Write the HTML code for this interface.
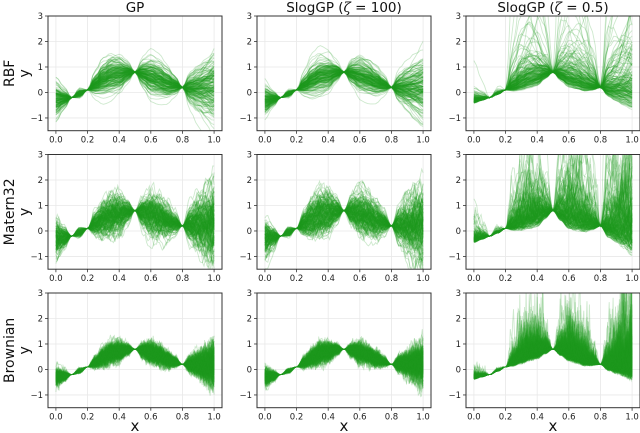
<!DOCTYPE html>
<html><head><meta charset="utf-8"><style>
body{margin:0;background:#fff}
svg{display:block;font-family:"DejaVu Sans","Liberation Sans",sans-serif}
</style></head><body>
<svg id="fig" width="640" height="433" viewBox="0 0 640 433" xmlns="http://www.w3.org/2000/svg"></svg>
<script>
// ---- data ----
const colTitles = ["GP", "SlogGP", "SlogGP"];
const colZeta = ["", "100", "0.5"];
const rowKernels = ["RBF", "Matern32", "Brownian"];
const xTicks = [0.0, 0.2, 0.4, 0.6, 0.8, 1.0];
const yTicks = [-1, 0, 1, 2, 3];
// mean of samples at x = 0, 0.05, ..., 1.0
const meanKnots = [-0.3,-0.25,-0.2,-0.05,0.1,0.3,0.5,0.65,0.7,0.78,0.8,0.75,0.65,0.55,0.4,0.3,0.2,0.2,0.2,0.2,0.2];
// spread (std) of samples at same knots
const sdKnots = [0.35,0.18,0.0,0.08,0.0,0.2,0.33,0.38,0.35,0.2,0.0,0.25,0.38,0.36,0.3,0.18,0.0,0.3,0.45,0.6,0.75];
const rowSpread = [1.0, 1.3, 0.75];
const nSamples = 200;

const svg = document.getElementById('fig');
const NS = "http://www.w3.org/2000/svg";
const colLeft = [48, 257, 466], axW = 174;
const rowTop = [16, 154.5, 293], axH = 114.7;
const xmin = -0.05, xmax = 1.05, ymin = -1.5, ymax = 3;

function el(tag, attrs, parent) {
  const e = document.createElementNS(NS, tag);
  for (const k in attrs) e.setAttribute(k, attrs[k]);
  (parent || svg).appendChild(e);
  return e;
}
function interp(arr, x) {
  const t = Math.max(0, Math.min(1, x)) * (arr.length - 1);
  const i = Math.min(arr.length - 2, Math.floor(t)), f = t - i;
  const s = f * f * (3 - 2 * f);
  return arr[i] * (1 - s) + arr[i + 1] * s;
}
let seed = 12345;
function rnd() { seed = (seed * 1664525 + 1013904223) >>> 0; return seed / 4294967296; }
function gauss() { let u = rnd() || 1e-9, v = rnd(); return Math.sqrt(-2 * Math.log(u)) * Math.cos(2 * Math.PI * v); }

for (let r = 0; r < 3; r++) {
  for (let c = 0; c < 3; c++) {
    const L = colLeft[c], T = rowTop[r];
    const sx = x => L + (x - xmin) / (xmax - xmin) * axW;
    const sy = y => T + (ymax - y) / (ymax - ymin) * axH;
    const g = el('g', {});
    
    
    xTicks.forEach(t => el('line', {x1: sx(t), x2: sx(t), y1: T, y2: T + axH, stroke: '#e8e8e8', 'stroke-width': 0.8}, g));
    yTicks.forEach(t => el('line', {x1: L, x2: L + axW, y1: sy(t), y2: sy(t), stroke: '#e8e8e8', 'stroke-width': 0.8}, g));
    const cid = 'clip' + r + c;
    const cp = el('clipPath', {id: cid}, g);
    el('rect', {x: L, y: T, width: axW, height: axH}, cp);
    const cg = el('g', {'clip-path': 'url(#' + cid + ')'}, g);
    const npts = r === 0 ? 60 : (r === 1 ? 110 : 200);
    for (let s = 0; s < nSamples; s++) {
      const a = [], ph = [];
      for (let k = 0; k < 4; k++) { a.push(gauss()); ph.push(rnd() * 6.283); }
      let walk = 0, rough = 0;
      let d = '';
      for (let i = 0; i <= npts; i++) {
        const x = i / npts;
        let z = 0;
        for (let k = 0; k < 4; k++) z += a[k] * Math.sin((k + 1) * 2.2 * x + ph[k]) * 0.6;
        if (r === 1) { rough = rough * 0.8 + gauss() * 0.25; z = z * 0.85 + rough; }
        if (r === 2) { walk = walk * 0.9 + gauss() * 0.18; z = z * 0.6 + walk + gauss() * 0.35; }
        let sd = interp(sdKnots, x) * rowSpread[r];
        const m = interp(meanKnots, x);
        let y;
        if (c === 2) {
          if (x < 0.2) sd *= 0.3;
          y = m + sd * (Math.exp(0.95 * z) - 1) * 1.3;
        }
        else if (c === 1) y = m + sd * z * 0.95;
        else y = m + sd * z;
        d += (i ? 'L' : 'M') + sx(x).toFixed(1) + ' ' + sy(y).toFixed(1);
      }
      const p = el('path', {d: d, fill: 'none', stroke: '#229922', 'stroke-opacity': 0.22, 'stroke-width': 0.9}, cg);
      
      
    }
    el('rect', {x: L, y: T, width: axW, height: axH, fill: 'none', stroke: '#333', 'stroke-width': 1}, g);
    xTicks.forEach(t => {
      el('line', {x1: sx(t), x2: sx(t), y1: T + axH, y2: T + axH + 3, stroke: '#333', 'stroke-width': 0.8}, g);
      const tx = el('text', {x: sx(t), y: T + axH + 12, 'font-size': 8.5, 'text-anchor': 'middle', fill: '#222'}, g);
      tx.textContent = t.toFixed(1);
      
      
    });
    yTicks.forEach(t => {
      el('line', {x1: L - 3, x2: L, y1: sy(t), y2: sy(t), stroke: '#333', 'stroke-width': 0.8}, g);
      const tx = el('text', {x: L - 5, y: sy(t) + 3, 'font-size': 8.5, 'text-anchor': 'end', fill: '#222'}, g);
      tx.textContent = t < 0 ? '\u2212' + Math.abs(t) : String(t);
      
      
    });
    if (c === 0) {
      const yl = el('text', {x: 0, y: 0, 'font-size': 14, 'text-anchor': 'middle', fill: '#111', transform: 'translate(29,' + (T + axH / 2) + ') rotate(-90)'}, g);
      yl.textContent = 'y';
      
      
      const rl = el('text', {x: 0, y: 0, 'font-size': 14, 'text-anchor': 'middle', fill: '#111', transform: 'translate(14,' + (T + axH / 2) + ') rotate(-90)'}, g);
      rl.textContent = rowKernels[r];
      
      
    }
    if (r === 2) {
      const xl = el('text', {x: L + axW / 2, y: 431, 'font-size': 15, 'text-anchor': 'middle', fill: '#111'}, g);
      xl.textContent = 'x';
      
      
    }
    if (r === 0) {
      const tt = el('text', {x: L + axW / 2, y: 12, 'font-size': 13.5, 'text-anchor': 'middle', fill: '#111'}, g);
      
      
      if (colZeta[c]) {
        tt.innerHTML = colTitles[c] + ' (<tspan font-style="italic" font-family="DejaVu Serif, serif">ζ</tspan> = ' + colZeta[c] + ')';
      } else tt.textContent = colTitles[c];
    }
  }
}
</script>
</body></html>
